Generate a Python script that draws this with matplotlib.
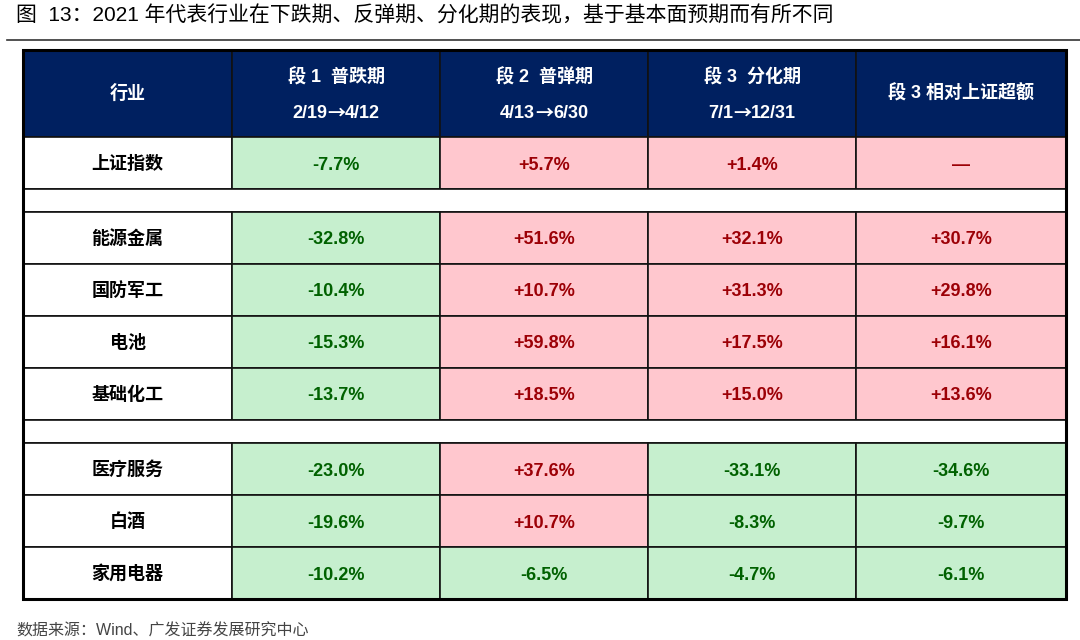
import matplotlib.pyplot as plt
from matplotlib.patches import Rectangle
from matplotlib.offsetbox import TextArea, HPacker, AnnotationBbox

plt.rcParams['font.family'] = ['Liberation Sans', 'Noto Sans CJK SC', 'DejaVu Sans']

title = "图  13：2021 年代表行业在下跌期、反弹期、分化期的表现，基于基本面预期而有所不同"
source = "数据来源：Wind、广发证券发展研究中心"

headers = ["行业", "段 1  普跌期\n2/19→4/12", "段 2  普弹期\n4/13→6/30",
           "段 3  分化期\n7/1→12/31", "段 3 相对上证超额"]
industries = ["上证指数", "能源金属", "国防军工", "电池", "基础化工",
              "医疗服务", "白酒", "家用电器"]
seg1 = [-7.7, -32.8, -10.4, -15.3, -13.7, -23.0, -19.6, -10.2]
seg2 = [5.7, 51.6, 10.7, 59.8, 18.5, 37.6, 10.7, -6.5]
seg3 = [1.4, 32.1, 31.3, 17.5, 15.0, -33.1, -8.3, -4.7]
excess = [None, 30.7, 29.8, 16.1, 13.6, -34.6, -9.7, -6.1]
gap_after = [0, 4]  # blank separator rows after these industry rows

NAVY = "#002060"
GREEN_BG, GREEN_TXT = "#C6EFCE", "#006100"
RED_BG, RED_TXT = "#FFC7CE", "#9C0006"
FS = 13

# layout (pixels)
col_edges = [23, 232, 440, 648, 856, 1066]
top, head_h, row_h, gap_h = 50, 87, 52, 23

fig = plt.figure(figsize=(10.8, 6.4), dpi=100)
ax = fig.add_axes([0, 0, 1, 1])
ax.set_xlim(0, 1080)
ax.set_ylim(640, 0)
ax.axis("off")

ax.text(16, 15, title, fontsize=15, va="center", ha="left", color="black")
ax.plot([7, 1080], [40, 40], color="#333333", lw=1.2)
ax.text(16, 631, source, fontsize=11.5, va="center", ha="left", color="#444444")

left, right = col_edges[0], col_edges[-1]


def header_line(cx, cy, s):
    props = dict(color="white", fontsize=FS, fontweight="bold")
    if "→" not in s:
        ax.text(cx, cy, s, ha="center", va="center", **props)
        return
    a, b = s.split("→")
    kids = [TextArea(a, textprops=props),
            TextArea("→", textprops=dict(props, family="Noto Sans CJK SC")),
            TextArea(b, textprops=props)]
    pack = HPacker(children=kids, align="baseline", pad=0, sep=0)
    ax.add_artist(AnnotationBbox(pack, (cx, cy), frameon=False,
                                 box_alignment=(0.5, 0.5), pad=0))


# header
for i, h in enumerate(headers):
    x0, x1 = col_edges[i], col_edges[i + 1]
    ax.add_patch(Rectangle((x0, top), x1 - x0, head_h, facecolor=NAVY,
                           edgecolor="#111111", lw=1.2))
    cx = (x0 + x1) / 2
    lines = h.split("\n")
    if len(lines) == 1:
        header_line(cx, top + head_h / 2, h)
    else:
        header_line(cx, top + 27, lines[0])
        header_line(cx, top + 63, lines[1])


def fmt(v):
    if v is None:
        return "—"
    return f"{v:+.1f}%"


y = top + head_h
for r, name in enumerate(industries):
    vals = [seg1[r], seg2[r], seg3[r], excess[r]]
    ax.add_patch(Rectangle((left, y), col_edges[1] - left, row_h,
                           facecolor="white", edgecolor="#111111", lw=1.2))
    ax.text((left + col_edges[1]) / 2, y + row_h / 2 + 1, name, fontsize=FS,
            fontweight="bold", ha="center", va="center", color="black")
    for c, v in enumerate(vals):
        x0, x1 = col_edges[c + 1], col_edges[c + 2]
        pos = v is None or v >= 0
        bg = RED_BG if pos else GREEN_BG
        tc = RED_TXT if pos else GREEN_TXT
        ax.add_patch(Rectangle((x0, y), x1 - x0, row_h, facecolor=bg,
                               edgecolor="#111111", lw=1.2))
        ax.text((x0 + x1) / 2, y + row_h / 2 + 2, fmt(v), fontsize=FS,
                fontweight="bold", ha="center", va="center", color=tc)
    y += row_h
    if r in gap_after:
        ax.add_patch(Rectangle((left, y), right - left, gap_h,
                               facecolor="white", edgecolor="#111111", lw=1.2))
        y += gap_h

# outer border
ax.add_patch(Rectangle((left, top), right - left, y - top, facecolor="none",
                       edgecolor="black", lw=2.2))

fig.savefig("out.png", dpi=100)
